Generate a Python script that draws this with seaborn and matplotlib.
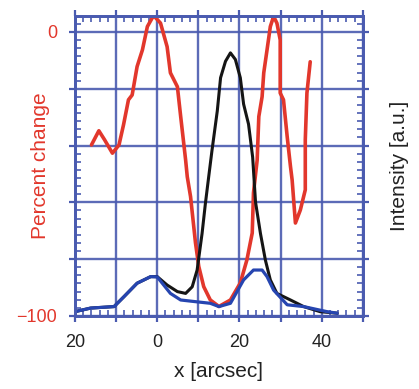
"""Percent change (left axis) vs. intensity profiles (right axis) along x."""

import matplotlib

matplotlib.use("Agg")
import matplotlib.pyplot as plt
import seaborn as sns
from matplotlib.ticker import AutoMinorLocator, FixedLocator, MultipleLocator

# percent change profile (red, left axis)
red_x = [-16.0, -14.2, -12.8, -10.9, -9.3, -8.2, -7.0, -6.1, -4.9, -3.6, -2.4, -1.2,
         -0.7, 0.8, 2.4, 3.2, 4.9, 5.7, 6.9, 7.3, 8.1, 9.3, 10.1, 11.3, 12.9, 15.0,
         17.8, 20.2, 21.8, 23.1, 23.4, 24.3, 24.7, 25.5, 25.9, 26.7, 27.5, 28.3, 29.1,
         29.9, 29.9, 30.7, 31.6, 32.4, 32.8, 33.6, 34.8, 36.0, 36.0, 36.4, 37.2]
red_y = [-39.8, -34.8, -38.0, -42.7, -39.8, -32.7, -23.9, -22.2, -12.2, -6.3, 1.9, 5.0,
         5.5, 3.1, -5.2, -14.4, -19.3, -29.8, -45.1, -51.0, -58.0, -74.3, -82.6, -89.7,
         -94.4, -96.7, -94.4, -88.4, -80.3, -70.8, -56.7, -45.1, -29.8, -22.8, -14.4,
         -6.3, 1.9, 5.5, 3.1, -2.8, -21.5, -23.9, -36.9, -47.4, -52.1, -67.3, -62.7,
         -55.6, -38.0, -21.5, -10.5]

# intensity profiles (right axis, arbitrary units)
black_x = [-20, -16.2, -10.5, -8.1, -4.9, -1.6, 0.0, 2.4, 4.9, 6.9, 8.5, 9.7, 10.9, 11.7,
           12.5, 13.3, 14.6, 15.4, 16.6, 17.8, 19.0, 20.2, 21.0, 22.2, 23.2, 23.9, 25.1,
           26.3, 27.5, 29.1, 32.4, 35.6, 39.6, 43.7]
black_y = [0.014, 0.026, 0.031, 0.064, 0.109, 0.131, 0.131, 0.103, 0.081, 0.075, 0.097,
           0.153, 0.275, 0.374, 0.463, 0.551, 0.684, 0.795, 0.850, 0.878, 0.856, 0.795,
           0.707, 0.640, 0.53, 0.38, 0.275, 0.186, 0.120, 0.075, 0.053, 0.031, 0.014, 0.009]
blue_x = [-20, -16.2, -10.5, -8.1, -4.9, -1.6, 0.0, 3.2, 5.7, 8.9, 12.9, 15.0, 17.8, 21.0,
          23.4, 25.5, 26.7, 28.3, 31.6, 35.6, 41.3, 43.7]
blue_y = [0.014, 0.026, 0.031, 0.064, 0.109, 0.131, 0.13, 0.075, 0.053, 0.048, 0.042,
          0.031, 0.042, 0.120, 0.153, 0.153, 0.131, 0.086, 0.037, 0.031, 0.014, 0.009]

x_ticks = [-20, -10, 0, 10, 20, 30, 40, 50]
x_ticklabels = ["20", "", "0", "", "20", "", "40", ""]
y_ticks = [-100, -80, -60, -40, -20, 0]
y_ticklabels = ["\u2212100", "", "", "", "", "0"]

FRAME = "#4a5bb0"
RED = "#e2372c"
BLUE = "#2645b0"

sns.set_style("white")
plt.rcParams["font.family"] = ["Liberation Sans", "DejaVu Sans"]

fig = plt.figure(figsize=(4.19, 3.89), dpi=100)
ax = fig.add_axes([0.179, 0.188, 0.687, 0.770])
ax2 = ax.twinx()

sns.lineplot(x=red_x, y=red_y, sort=False, estimator=None, color=RED, lw=2.6, ax=ax)
sns.lineplot(x=black_x, y=black_y, sort=False, estimator=None, color="#151515", lw=2.2, ax=ax2)
sns.lineplot(x=blue_x, y=blue_y, sort=False, estimator=None, color=BLUE, lw=2.3, ax=ax2)

ax.set_xlim(-20, 50)
ax.set_ylim(-100, 5.5)
ax2.set_ylim(0, 1.0)

ax.xaxis.set_major_locator(FixedLocator(x_ticks))
ax.set_xticklabels(x_ticklabels)
ax.xaxis.set_minor_locator(MultipleLocator(2))
ax.yaxis.set_major_locator(FixedLocator(y_ticks))
ax.set_yticklabels(y_ticklabels)
ax.yaxis.set_minor_locator(AutoMinorLocator(7))

ax.grid(True, which="major", color=FRAME, lw=1.7, alpha=0.9)
ax.tick_params(which="major", direction="out", length=4, width=1.6, color=FRAME,
               left=True, right=True, top=True, bottom=True, labelsize=13)
ax.tick_params(which="minor", direction="in", length=4, width=1.2, color=FRAME,
               left=True, right=True, top=True, bottom=True)
ax.tick_params(axis="x", pad=9, labelcolor="#222222")
ax.tick_params(axis="y", pad=9, labelcolor=RED)
ax2.set_yticks([])
for a in (ax, ax2):
    for spine in a.spines.values():
        spine.set_color(FRAME)
        spine.set_linewidth(2)

ax.set_xlabel("x [arcsec]", fontsize=15, color="#222222")
ax.xaxis.set_label_coords(0.5, -0.155)
ax.set_ylabel("Percent change", fontsize=15, color=RED)
ax.yaxis.set_label_coords(-0.088, 0.5)
ax2.set_ylabel("Intensity [a.u.]", fontsize=15, color="#222222")
ax2.yaxis.set_label_coords(1.095, 0.5)

fig.savefig("out.png", dpi=100)
